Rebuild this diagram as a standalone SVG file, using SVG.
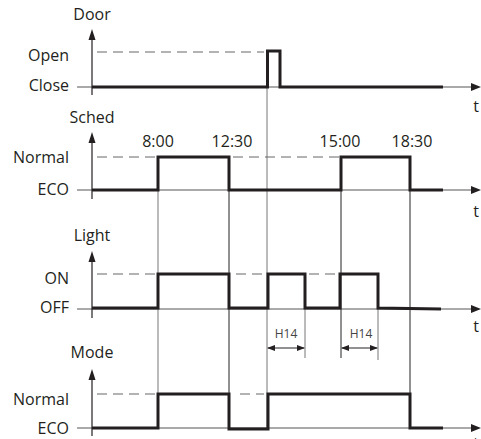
<svg xmlns="http://www.w3.org/2000/svg" width="481" height="439" viewBox="0 0 481 439">
<defs>
<marker id="ah" markerWidth="8" markerHeight="6" refX="7" refY="3" orient="auto-start-reverse" markerUnits="userSpaceOnUse">
<path d="M0,0 L8,3 L0,6 Z" fill="#231f20"/>
</marker>
<style>
.lbl{font-family:"Open Sans","Liberation Sans",sans-serif;font-size:16px;fill:#231f20}
.c{text-anchor:middle}
.r{text-anchor:end}
.sm{font-family:"Open Sans","Liberation Sans",sans-serif;font-size:12px;fill:#444;text-anchor:middle}
.thick{fill:none;stroke:#231f20;stroke-width:3}
.base{fill:none;stroke:#555;stroke-width:1}
.axis{fill:none;stroke:#231f20;stroke-width:1.2}
.dash{fill:none;stroke:#666;stroke-width:1;stroke-dasharray:10 6}
.g1{stroke:#777;stroke-width:1;fill:none}
.g2{stroke:#222;stroke-width:1;fill:none}
.ar{fill:#231f20}
</style>
</defs>

<g id="connectors">
<line class="g1" x1="158" y1="157" x2="158" y2="428"/>
<line class="g2" x1="229" y1="157" x2="229" y2="428"/>
<line class="g1" x1="267" y1="51" x2="267" y2="428"/>
<line class="g1" x1="305" y1="274" x2="305" y2="358"/>
<line class="g2" x1="341" y1="157" x2="341" y2="358"/>
<line class="g1" x1="378" y1="274" x2="378" y2="360"/>
<line class="g2" x1="410" y1="157" x2="410" y2="428"/>
<line class="g2" x1="268" y1="348" x2="304" y2="348" marker-start="url(#ah)" marker-end="url(#ah)"/>
<line class="g2" x1="342" y1="348" x2="377" y2="348" marker-start="url(#ah)" marker-end="url(#ah)"/>
<text class="sm" x="286" y="338">H14</text>
<text class="sm" x="361" y="338">H14</text>
</g>

<g id="door">
<text class="lbl c" x="92" y="20">Door</text>
<text class="lbl r" x="69" y="61">Open</text>
<text class="lbl r" x="69" y="91">Close</text>
<line class="dash" x1="97" y1="52" x2="264" y2="52"/>
<line class="base" x1="77" y1="87" x2="472" y2="87"/>
<path class="ar" d="M481,87 L471,83 L471,91 Z"/>
<line class="axis" x1="92" y1="38" x2="92" y2="95"/>
<path class="ar" d="M92,29 L88.5,40 L95.5,40 Z"/>
<path class="thick" d="M92,87 H267.5 V51 H280 V87 H443"/>
<text class="lbl c" x="476" y="112">t</text>
</g>

<g id="sched">
<text class="lbl c" x="92" y="123">Sched</text>
<text class="lbl r" x="69" y="163">Normal</text>
<text class="lbl r" x="69" y="195">ECO</text>
<text class="lbl c" x="158" y="147">8:00</text>
<text class="lbl c" x="232" y="147">12:30</text>
<text class="lbl c" x="340" y="147">15:00</text>
<text class="lbl c" x="412" y="147">18:30</text>
<line class="dash" x1="97" y1="157" x2="156" y2="157"/>
<line class="dash" x1="233" y1="157" x2="339" y2="157"/>
<line class="base" x1="77" y1="190" x2="472" y2="190"/>
<path class="ar" d="M481,190 L471,186 L471,194 Z"/>
<line class="axis" x1="92" y1="141" x2="92" y2="199"/>
<path class="ar" d="M92,132 L88.5,143 L95.5,143 Z"/>
<path class="thick" d="M92,190 H158 V157 H229 V190 H341 V157 H410 V190 H443"/>
<text class="lbl c" x="476" y="217">t</text>
</g>

<g id="light">
<text class="lbl c" x="92" y="241">Light</text>
<text class="lbl r" x="69" y="284">ON</text>
<text class="lbl r" x="69" y="313">OFF</text>
<line class="dash" x1="97" y1="274" x2="156" y2="274"/>
<line class="dash" x1="236" y1="274" x2="265" y2="274"/>
<line class="dash" x1="309" y1="274" x2="339" y2="274"/>
<line class="base" x1="77" y1="309" x2="472" y2="309"/>
<path class="ar" d="M481,309 L471,305 L471,313 Z"/>
<line class="axis" x1="92" y1="260" x2="92" y2="318"/>
<path class="ar" d="M92,251 L88.5,262 L95.5,262 Z"/>
<path class="thick" d="M92,308 H158 V274 H229 V308 H268 V274 H305 V308 H340 V274 H378 V308 L441,309"/>
<text class="lbl c" x="476" y="332">t</text>
</g>

<g id="mode">
<text class="lbl c" x="92" y="358">Mode</text>
<text class="lbl r" x="69" y="405">Normal</text>
<text class="lbl r" x="69" y="434">ECO</text>
<line class="dash" x1="97" y1="394" x2="156" y2="394"/>
<line class="dash" x1="240" y1="394" x2="264" y2="394"/>
<line class="base" x1="77" y1="428" x2="472" y2="428"/>
<path class="ar" d="M481,428 L471,424 L471,432 Z"/>
<line class="axis" x1="92" y1="378" x2="92" y2="436"/>
<path class="ar" d="M92,369 L88.5,380 L95.5,380 Z"/>
<path class="thick" d="M92,428 H158 V394 H229 V429 H268 V394 H410 V428 H443"/>
<text class="lbl c" x="476" y="449">t</text>
</g>
</svg>
